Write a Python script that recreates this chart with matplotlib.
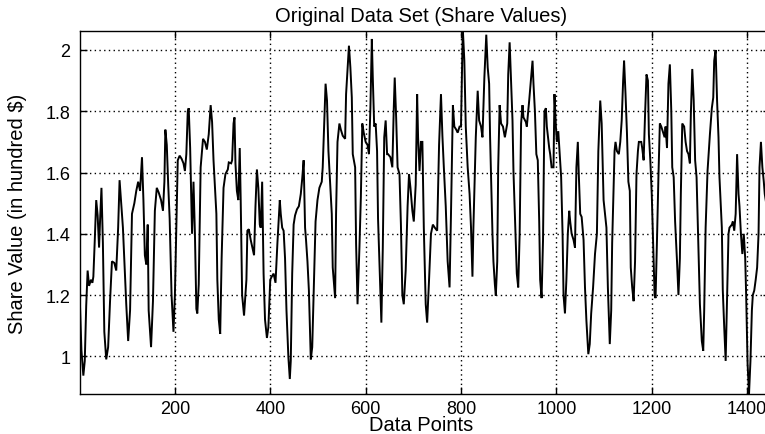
import matplotlib
matplotlib.use("Agg")
import matplotlib.pyplot as plt

# ---- data (data point index, share value in hundred $) ----
data_points = [
    1, 4, 8, 11, 14, 17, 20, 24, 27, 29, 32, 35, 38, 41, 43, 46, 49, 52, 56, 60,
    64, 68, 73, 77, 81, 84, 87, 91, 94, 98, 102, 106, 110, 115, 119, 123, 127, 131, 134, 137,
    140, 143, 145, 150, 154, 158, 162, 166, 171, 175, 178, 180, 183, 186, 189, 193, 197, 200, 203, 206,
    210, 214, 218, 221, 224, 227, 229, 232, 236, 239, 242, 245, 247, 250, 254, 259, 263, 267, 271, 275,
    278, 281, 284, 287, 289, 292,
    295, 298, 302, 306, 311, 313, 318, 320, 323, 325, 327, 330, 333, 336, 338, 341, 345, 350, 352, 355,
    359, 364, 366, 369, 372, 375, 378, 380, 383, 386, 389, 393, 396, 400, 403, 407, 411, 415, 420, 422,
    425, 428, 431, 434, 438, 441, 443, 446, 449, 452, 456, 460, 464, 467, 470, 473, 475, 478, 481, 485,
    488, 492, 495, 499, 503, 508, 510, 513, 516, 519, 522, 526, 529, 531, 536, 538, 541, 545, 548, 552,
    557, 559, 564, 565, 568, 571, 573, 578, 580, 583,
    587, 590, 593, 596, 600, 604, 607, 610, 613, 615, 618, 621, 624, 626, 631, 633, 636, 639, 642, 645,
    647, 652, 656, 659, 661, 664, 667, 671, 674, 677, 680, 684, 688, 691, 694, 698, 701, 705, 708, 710,
    713, 716, 719, 722, 726, 729, 733, 737, 741, 745, 750, 754, 758, 761, 764, 768, 772, 776, 779, 783,
    786, 790, 793, 797, 800, 803, 804, 807, 810, 814, 818, 821, 824, 826, 831, 835, 838, 842, 845, 849,
    853, 856, 859, 861, 866, 868, 871,
    873, 876, 878, 881, 884, 888, 892, 897, 899, 902, 905, 908, 910, 913, 917, 920, 923, 926, 929, 931,
    936, 938, 943, 947, 950, 952, 955, 958, 961, 964, 966, 969, 972, 975, 978, 980, 985, 987, 990, 994,
    996, 999, 1001, 1004, 1007, 1010, 1013, 1015, 1018, 1021, 1024, 1027, 1029, 1032, 1036, 1039, 1042, 1045, 1047, 1050,
    1053, 1057, 1060, 1063, 1067, 1070, 1073, 1077, 1081, 1085, 1088, 1092, 1095, 1099, 1102, 1105, 1108, 1112, 1115, 1117,
    1122, 1124, 1127, 1131, 1134, 1137, 1140, 1142, 1145, 1148, 1151, 1154, 1156, 1159,
    1162, 1165, 1168, 1171, 1173, 1178, 1180, 1183, 1186, 1189, 1192, 1194, 1197, 1200, 1203, 1206, 1208, 1211, 1214, 1217,
    1220, 1224, 1227, 1229, 1232, 1235, 1238, 1241, 1243, 1246, 1249, 1253, 1256, 1259, 1261, 1264, 1268, 1271, 1274, 1277,
    1280, 1282, 1285, 1288, 1291, 1294, 1296, 1301, 1305, 1308, 1310, 1313, 1317, 1322, 1326, 1329, 1331, 1334, 1337, 1340,
    1342, 1347, 1349, 1352, 1355, 1358, 1361, 1363, 1368, 1370, 1373, 1376, 1379, 1382, 1384, 1387, 1390, 1393, 1396, 1398,
    1401, 1404, 1407, 1410, 1412, 1415, 1418, 1421, 1424, 1426, 1429, 1432, 1435, 1437, 1442, 1448,
]

share_values = [
    1.165, 1.02, 0.937, 0.985, 1.165, 1.28, 1.23, 1.25, 1.24, 1.26, 1.38, 1.51, 1.46, 1.355, 1.44, 1.55, 1.37, 1.08, 0.99, 1.03,
    1.18, 1.31, 1.305, 1.28, 1.42, 1.575, 1.51, 1.42, 1.31, 1.17, 1.05, 1.15, 1.465, 1.50, 1.54, 1.57, 1.54, 1.65, 1.51, 1.33,
    1.30, 1.43, 1.15, 1.03, 1.18, 1.475, 1.55, 1.535, 1.51, 1.475, 1.57, 1.74, 1.69, 1.56, 1.45, 1.20, 1.08, 1.20, 1.42, 1.64,
    1.655, 1.645, 1.63, 1.605, 1.66, 1.80, 1.81, 1.68, 1.40, 1.57, 1.40, 1.155, 1.14, 1.235, 1.617, 1.71, 1.70, 1.675, 1.725, 1.82,
    1.765, 1.64, 1.55, 1.465, 1.25, 1.12,
    1.073, 1.32, 1.55, 1.595, 1.61, 1.633, 1.63, 1.64, 1.76, 1.78, 1.63, 1.54, 1.51, 1.68, 1.51, 1.20, 1.133, 1.25, 1.41, 1.415,
    1.38, 1.345, 1.33, 1.49, 1.61, 1.55, 1.43, 1.42, 1.57, 1.27, 1.12, 1.06, 1.095, 1.25, 1.26, 1.27, 1.24, 1.37, 1.51, 1.465,
    1.42, 1.41, 1.32, 1.15, 0.997, 0.926, 0.985, 1.27, 1.43, 1.46, 1.48, 1.49, 1.53, 1.58, 1.64, 1.42, 1.38, 1.31, 1.215, 0.99,
    1.03, 1.26, 1.44, 1.51, 1.55, 1.57, 1.617, 1.75, 1.89, 1.835, 1.67, 1.55, 1.465, 1.29, 1.19, 1.465, 1.70, 1.76, 1.74, 1.72,
    1.71, 1.856, 1.987, 2.014, 1.943, 1.845, 1.66, 1.617, 1.367, 1.17,
    1.355, 1.52, 1.76, 1.73, 1.70, 1.69, 1.66, 1.81, 2.036, 1.91, 1.75, 1.76, 1.67, 1.45, 1.20, 1.11, 1.355, 1.715, 1.77, 1.66,
    1.66, 1.65, 1.617, 1.81, 1.91, 1.78, 1.617, 1.595, 1.43, 1.20, 1.17, 1.28, 1.49, 1.595, 1.55, 1.475, 1.44, 1.56, 1.856, 1.715,
    1.605, 1.70, 1.70, 1.42, 1.17, 1.11, 1.25, 1.40, 1.43, 1.42, 1.41, 1.69, 1.856, 1.72, 1.617, 1.49, 1.31, 1.225, 1.465, 1.82,
    1.75, 1.74, 1.73, 1.75, 1.75, 2.01, 2.062, 1.965, 1.75, 1.617, 1.53, 1.42, 1.26, 1.42, 1.715, 1.867, 1.77, 1.75, 1.715, 1.91,
    2.05, 1.943, 1.89, 1.715, 1.40, 1.31, 1.235,
    1.198, 1.31, 1.617, 1.82, 1.76, 1.75, 1.715, 1.76, 1.92, 2.025, 1.90, 1.77, 1.605, 1.465, 1.27, 1.225, 1.40, 1.76, 1.82, 1.78,
    1.765, 1.75, 1.835, 1.91, 1.965, 1.89, 1.80, 1.66, 1.64, 1.44, 1.25, 1.19, 1.38, 1.80, 1.81, 1.75, 1.68, 1.66, 1.617, 1.617,
    1.856, 1.75, 1.70, 1.735, 1.66, 1.585, 1.40, 1.20, 1.14, 1.25, 1.40, 1.475, 1.44, 1.40, 1.38, 1.355, 1.617, 1.70, 1.595, 1.465,
    1.455, 1.38, 1.225, 1.116, 1.007, 1.04, 1.14, 1.225, 1.334, 1.40, 1.67, 1.835, 1.76, 1.51, 1.465, 1.42, 1.225, 1.04, 1.15, 1.37,
    1.67, 1.70, 1.67, 1.66, 1.70, 1.77, 1.90, 1.965, 1.856, 1.73, 1.57, 1.54, 1.29, 1.225,
    1.18, 1.31, 1.595, 1.67, 1.70, 1.70, 1.68, 1.64, 1.79, 1.92, 1.90, 1.725, 1.64, 1.53, 1.37, 1.20, 1.19, 1.38, 1.585, 1.76,
    1.75, 1.73, 1.715, 1.75, 1.68, 1.89, 1.953, 1.80, 1.617, 1.585, 1.44, 1.31, 1.20, 1.32, 1.53, 1.76, 1.75, 1.70, 1.67, 1.66,
    1.63, 1.79, 1.938, 1.835, 1.64, 1.585, 1.465, 1.17, 1.05, 1.018, 1.15, 1.42, 1.605, 1.725, 1.81, 1.845, 1.965, 2.0, 1.835, 1.715,
    1.585, 1.42, 1.215, 1.095, 0.985, 1.20, 1.40, 1.42, 1.43, 1.44, 1.41, 1.465, 1.66, 1.53, 1.49, 1.40, 1.334, 1.40, 1.32, 1.20,
    0.975, 0.877, 0.985, 1.15, 1.20, 1.215, 1.25, 1.29, 1.40, 1.617, 1.70, 1.617, 1.57, 1.53, 1.48, 1.52,
]

x_ticks = [200, 400, 600, 800, 1000, 1200, 1400]
x_tick_labels = ["200", "400", "600", "800", "1000", "1200", "1400"]
y_ticks = [1.0, 1.2, 1.4, 1.6, 1.8, 2.0]
y_tick_labels = ["1", "1.2", "1.4", "1.6", "1.8", "2"]

title_text = "Original Data Set (Share Values)"
x_label_text = "Data Points"
y_label_text = "Share Value (in hundred $)"

plt.rcParams["font.family"] = ["Liberation Sans", "DejaVu Sans"]

W, H = 765, 435
fig = plt.figure(figsize=(W / 100, H / 100), dpi=100)
fig.patch.set_facecolor("white")

# axes: left spine at px 80, top at px 32, bottom at px 395, right spine just off the image
ax_left, ax_right, ax_top, ax_bottom = 80, 770, 32, 395
ax = fig.add_axes([ax_left / W, 1 - ax_bottom / H, (ax_right - ax_left) / W, (ax_bottom - ax_top) / H])

ax.plot(data_points, share_values, color="black", linewidth=1.4, solid_joinstyle="miter")

ax.set_xlim(min(data_points), max(data_points))
ax.set_ylim(min(share_values), max(share_values))

ax.set_xticks(x_ticks)
ax.set_xticklabels(x_tick_labels)
ax.set_yticks(y_ticks)
ax.set_yticklabels(y_tick_labels)

ax.grid(True, color="black", linestyle=(0, (1, 2.4)), linewidth=1.0)
ax.tick_params(axis="both", direction="in", length=5, width=1.0, labelsize=13,
               top=True, right=True, colors="black")
ax.tick_params(axis="x", pad=4)
ax.tick_params(axis="y", pad=7)
for sp in ax.spines.values():
    sp.set_color("black")
    sp.set_linewidth(1.0)

ax_cx = (ax_left + ax_right) / 2 / W
fig.text(ax_cx - 0.005, 1 - 16 / H, title_text, ha="center", va="center", fontsize=14.5, color="black")
fig.text(ax_cx - 0.005, 1 - 431.5 / H, x_label_text, ha="center", va="baseline", fontsize=14.5, color="black")
fig.text(18 / W, 1 - 213.5 / H, y_label_text, ha="center", va="center", rotation=90, fontsize=14.5, color="black")

fig.savefig("out.png", dpi=100)
